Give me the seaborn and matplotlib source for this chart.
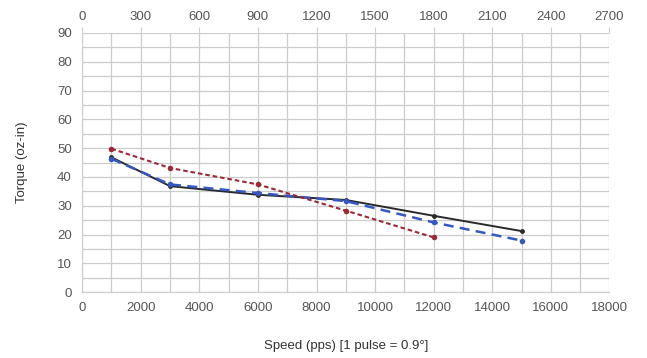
import pandas as pd
import matplotlib
matplotlib.use('Agg')
import matplotlib.pyplot as plt
import seaborn as sns

sns.set_style('white')
plt.rcParams['font.family'] = ['Liberation Sans', 'DejaVu Sans']

# speed in pulses per second
speed_pps = [1000, 3000, 6000, 9000, 12000, 15000]
speed_red = [1000, 3000, 6000, 9000, 12000]

# torque (oz-in)
torque_black = [46.8, 36.8, 33.8, 32.0, 26.5, 21.2]
torque_blue = [46.3, 37.4, 34.4, 31.6, 24.2, 17.9]
torque_red = [49.8, 43.1, 37.4, 28.3, 19.0]

x_ticks = list(range(0, 18001, 2000))
top_ticks = list(range(0, 2701, 300))
y_ticks = list(range(0, 91, 10))

df_black = pd.DataFrame({'speed': speed_pps, 'torque': torque_black})
df_blue = pd.DataFrame({'speed': speed_pps, 'torque': torque_blue})
df_red = pd.DataFrame({'speed': speed_red, 'torque': torque_red})

fig = plt.figure(figsize=(6.47, 3.58), dpi=100)
ax = fig.add_axes([0.127, 0.184, 0.815, 0.724])

grid_c = '#cccccc'
text_c = '#555555'

sns.lineplot(data=df_black, x='speed', y='torque', ax=ax, color='#2a2a2a',
             lw=1.4, marker='o', markersize=3.5, markeredgewidth=0)
sns.lineplot(data=df_blue, x='speed', y='torque', ax=ax, color='#3557c4',
             lw=1.8, linestyle=(0, (4, 2.5)), marker='o', markersize=4, markeredgewidth=0)
sns.lineplot(data=df_red, x='speed', y='torque', ax=ax, color='#9a2a35',
             lw=1.5, linestyle=(0, (2.2, 1.4)), marker='o', markersize=4, markeredgewidth=0)

ax.set_xlim(0, 18000)
ax.set_ylim(0, 90)
ax.set_xticks(x_ticks)
ax.set_xticks(range(0, 18001, 1000), minor=True)
ax.set_yticks(y_ticks)
ax.set_yticks(range(0, 91, 5), minor=True)
ax.grid(True, which='both', color=grid_c, lw=0.9)
ax.set_axisbelow(True)
for s in ax.spines.values():
    s.set_visible(False)
ax.spines['left'].set_visible(True)
ax.spines['left'].set_color(grid_c)
ax.spines['bottom'].set_visible(True)
ax.spines['bottom'].set_color(grid_c)

ax.tick_params(axis='both', which='major', labelsize=9.5, colors=text_c,
               length=4, color=grid_c)
ax.tick_params(axis='both', which='minor', length=0)
ax.tick_params(axis='x', pad=3)

ax.set_xlabel('Speed (pps) [1 pulse = 0.9°]', fontsize=9.5, color='#333333', labelpad=19)
ax.set_ylabel('Torque (oz-in)', fontsize=9.5, color='#333333', labelpad=21)

top = ax.secondary_xaxis('top', functions=(lambda x: x * 0.15, lambda x: x / 0.15))
top.set_xticks(top_ticks)
top.tick_params(labelsize=9.5, colors=text_c, length=4, color=grid_c, pad=3)
top.spines['top'].set_visible(False)

fig.savefig('out.png', dpi=100)
